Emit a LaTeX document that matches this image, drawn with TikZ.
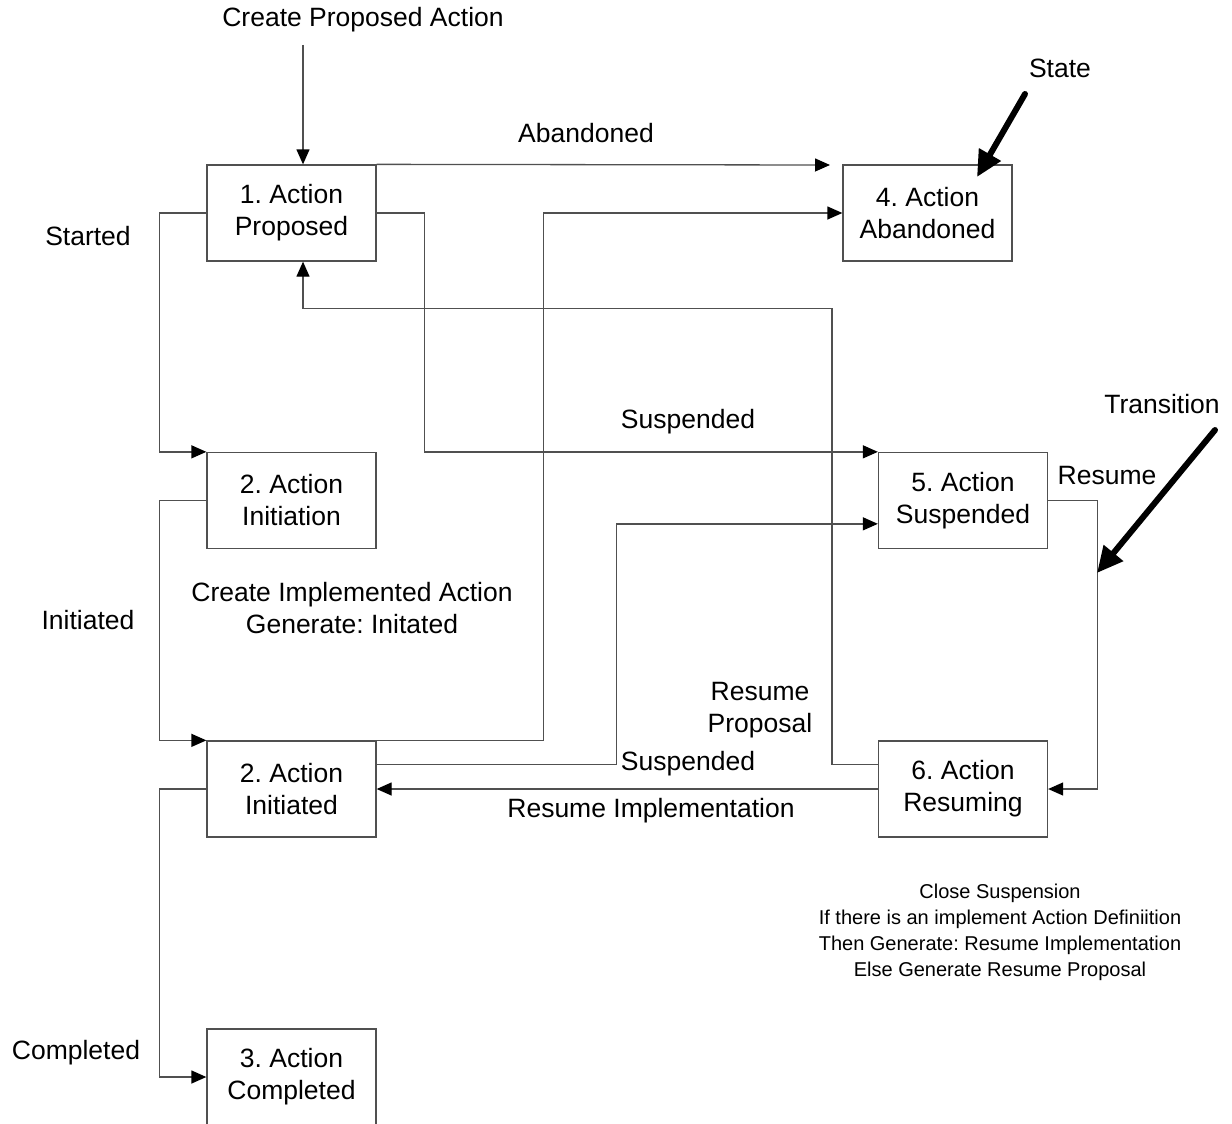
\documentclass[tikz,border=0pt]{standalone}
\usepackage{fontspec}
\setmainfont{Liberation Sans}
\usetikzlibrary{arrows.meta,calc}
\definecolor{linegray}{RGB}{80,80,80}
\frenchspacing
\begin{document}
\begin{tikzpicture}[x=1pt,y=-1pt,
  state/.style={draw=linegray,line width=1.3pt,minimum width=169pt,minimum height=96pt,
    inner sep=0pt,align=center,font=\fontsize{26.5}{32}\selectfont},
  lbl/.style={align=center,font=\fontsize{26.5}{32}\selectfont,inner sep=0pt},
  note/.style={align=center,font=\fontsize{20}{26}\selectfont,inner sep=0pt},
  wire/.style={draw=linegray,line width=1.3pt},
  arr/.style={wire,-{Triangle[length=15pt,width=13pt,color=black]}},
  pointer/.style={draw=black,line width=6pt,line cap=round,-{Triangle[length=26pt,width=24pt]}}]

\clip (0,0) rectangle (1232,1124);
\fill[white] (0,0) rectangle (1232,1124);

% states
\node[state] (b1)  at (291.5,213)   {1. Action\\Proposed};
\node[state] (b2a) at (291.5,500.5) {2. Action\\Initiation};
\node[state] (b2b) at (291.5,789)   {2. Action\\Initiated};
\node[state] (b3)  at (291.5,1077)  {3. Action\\Completed};
\node[state] (b4)  at (927.5,213)   {4. Action\\Abandoned};
\node[state] (b5)  at (963,500.5)   {5. Action\\Suspended};
\node[state] (b6)  at (963,789)     {6. Action\\Resuming};

% entry
\node[lbl] (create) at (363,20) {Create Proposed Action};
\coordinate (entry) at (303,45);
\draw[arr] (entry) -- (entry |- b1.north);

% abandon from proposal (stops short of the box)
\coordinate (abEnd) at (830,165);
\draw[arr] (b1.north east) -- (abEnd);
\node[lbl] (labAb) at (586,133) {Abandoned};

% left-hand chain
\draw[arr] (b1.west) -- ++(-47,0) |- (b2a.north west);
\node[lbl] (labStart) at (88,236) {Started};
\draw[arr] (b2a.west) -- ++(-47,0) |- (b2b.north west);
\node[lbl] (labInit) at (88,620) {Initiated};
\draw[arr] (b2b.west) -- ++(-47,0) |- (b3.west);
\node[lbl] (labComp) at (76,1053) {Completed};

% suspension of the proposal
\draw[arr] (b1.east) -- ++(48,0) |- (b5.north west);
\node[lbl] (labSus1) at (688,422) {Suspended};

% abandon from initiated
\draw[arr] (b2b.north east) -- ++(167,0) |- (b4.west);

% suspension of the initiated action
\draw[arr] ([yshift=-24pt]b2b.north east) -- ++(240,0) |- ([yshift=-72pt]b5.north west);
\node[lbl] (labSus2) at (688,764) {Suspended};

% resume proposal
\draw[arr] ([yshift=-24pt]b6.north west) -- ++(-46,0) -- ++(0,-456) -| ([xshift=11.5pt]b1.south);
\node[lbl] (labRP) at (760,710) {Resume\\Proposal};

% resume implementation
\draw[arr] (b6.west) -- (b2b.east);
\node[lbl] (labRI) at (651,811) {Resume Implementation};

% resume
\draw[arr] (b5.east) -- ++(49,0) |- (b6.east);
\node[lbl] (labRes) at (1107,476) {Resume};

\node[lbl] (labImpl) at (352,608) {Create Implemented Action\\Generate: Initated};

\node[note] (close) at (1000,932) {Close Suspension\\If there is an implement Action Definiition\\Then Generate: Resume Implementation\\Else Generate Resume Proposal};

% legend pointers
\node[lbl] (stateLab) at (1060,68) {State};
\coordinate (stateTail) at (1025,94);
\coordinate (stateTip) at (977,177);
\draw[pointer] (stateTail) -- (stateTip);

\node[lbl] (transLab) at (1162,404) {Transition};
\coordinate (transTail) at (1215,430);
\coordinate (transTip) at (1097,573);
\draw[pointer] (transTail) -- (transTip);
\end{tikzpicture}
\end{document}
